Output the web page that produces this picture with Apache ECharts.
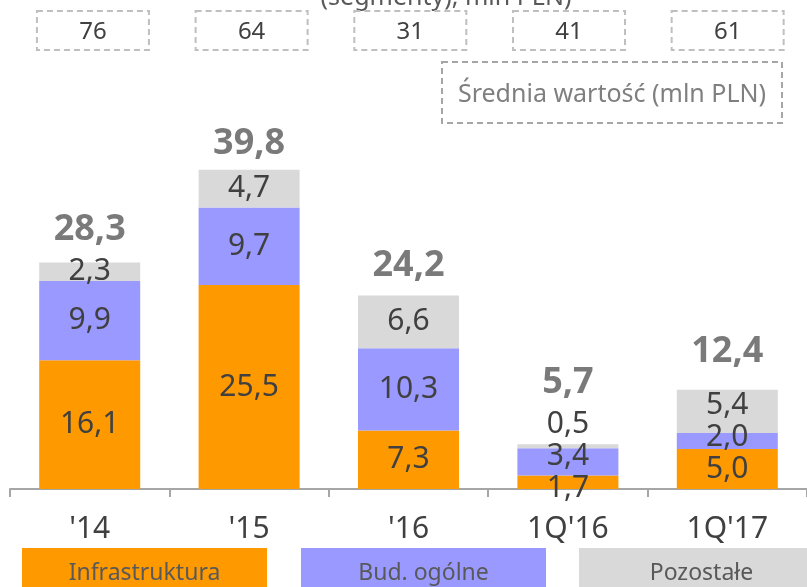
<!DOCTYPE html>
<html>
<head>
<meta charset="utf-8">
<script src="https://cdn.jsdelivr.net/npm/echarts@6/dist/echarts.min.js"></script>
<style>
  html, body { margin: 0; padding: 0; background: #fff; }
  #chart { width: 807px; height: 587px; }
</style>
</head>
<body>
<div id="chart"></div>
<script>
// dane
const categories = ["'14", "'15", "'16", "1Q'16", "1Q'17"];
const infra = [16.1, 25.5, 7.3, 1.7, 5.0];
const budOgolne = [9.9, 9.7, 10.3, 3.4, 2.0];
const pozostale = [2.3, 4.7, 6.6, 0.5, 5.4];
const totals = [28.3, 39.8, 24.2, 5.7, 12.4];
const avgValues = [76, 64, 31, 41, 61];

// przesuniecia etykiet (px), tylko wyglad
const infraShift = [0, 0, 0, 6, 0];
const budShift = [0, 0, 0, -5, -4];
const otherShift = [0, 0, 0, -22, -6];
const totalLift = [33, 27, 30, 61, 38];

const FONT = '"Noto Sans", "DejaVu Sans", sans-serif';
const fmt = v => v.toFixed(1).replace('.', ',');

const chart = echarts.init(document.getElementById('chart'));

function segment(name, values, shifts, color) {
    return {
        name: name,
        type: 'bar',
        stack: 'total',
        barWidth: 101,
        xAxisIndex: 0,
        yAxisIndex: 0,
        itemStyle: { color: color },
        label: {
            show: true,
            position: 'inside',
            color: '#404040',
            fontSize: 30,
            fontFamily: FONT,
            formatter: p => fmt(p.value)
        },
        data: values.map((v, i) => ({ value: v, label: { offset: [0, shifts[i]] } }))
    };
}

chart.setOption({
    animation: false,
    grid: [
        { left: 10, top: 89, width: 807.5, height: 400 },
        { left: 13.6, top: 11, width: 794, height: 39 }
    ],
    xAxis: [{
        type: 'category',
        gridIndex: 0,
        data: categories,
        axisLine: { lineStyle: { color: '#a6a6a6', width: 2 } },
        axisTick: { show: true, length: 8, lineStyle: { color: '#a6a6a6', width: 2 } },
        axisLabel: { color: '#404040', fontSize: 30, fontFamily: FONT, margin: 25 }
    }, {
        type: 'category',
        gridIndex: 1,
        data: categories,
        show: false
    }],
    yAxis: [
        { type: 'value', gridIndex: 0, min: 0, max: 50, show: false },
        { type: 'value', gridIndex: 1, min: 0, max: 1, show: false }
    ],
    series: [
        segment('Infrastruktura', infra, infraShift, '#ff9900'),
        segment('Bud. ogólne', budOgolne, budShift, '#9999ff'),
        segment('Pozostałe', pozostale, otherShift, '#d9d9d9'),
        {
            name: 'Suma',
            type: 'scatter',
            symbolSize: 1,
            itemStyle: { color: 'rgba(0,0,0,0)' },
            z: 5,
            label: {
                show: true,
                position: 'inside',
                color: '#595959',
                fontSize: 36,
                fontWeight: 'bold',
                fontFamily: FONT,
                formatter: p => fmt(p.value)
            },
            data: totals.map((v, i) => ({ value: v, label: { offset: [0, -totalLift[i]] } }))
        },
        {
            name: 'Średnia wartość',
            type: 'custom',
            xAxisIndex: 1,
            yAxisIndex: 1,
            encode: { x: 0, y: 1 },
            data: avgValues.map((v, i) => [i, 0, v]),
            renderItem: (params, api) => {
                const x = api.coord([api.value(0), 0])[0];
                const yBottom = api.coord([api.value(0), 0])[1];
                const yTop = api.coord([api.value(0), 1])[1];
                return {
                    type: 'group',
                    children: [{
                        type: 'rect',
                        shape: { x: x - 56, y: yTop, width: 112, height: yBottom - yTop },
                        style: { fill: 'none', stroke: '#bfbfbf', lineWidth: 2, lineDash: [6, 4] }
                    }, {
                        type: 'text',
                        style: {
                            text: String(api.value(2)),
                            x: x,
                            y: (yTop + yBottom) / 2 + 2,
                            align: 'center',
                            verticalAlign: 'middle',
                            fill: '#404040',
                            font: '24px ' + FONT
                        }
                    }]
                };
            }
        }
    ],
    graphic: [
        {
            type: 'text',
            style: { text: '(segmenty), mln PLN)', x: 446, y: 10, align: 'center', verticalAlign: 'bottom',
                     fill: '#595959', font: '25px ' + FONT }
        },
        {
            type: 'group',
            children: [
                { type: 'rect', shape: { x: 442, y: 62, width: 340, height: 61 },
                  style: { fill: 'none', stroke: '#a6a6a6', lineWidth: 2, lineDash: [6, 4] } },
                { type: 'text', style: { text: 'Średnia wartość (mln PLN)', x: 612, y: 95, align: 'center',
                  verticalAlign: 'middle', fill: '#7f7f7f', font: '25px ' + FONT } }
            ]
        },
        {
            type: 'group',
            children: [
                { type: 'rect', shape: { x: 22, y: 548, width: 245, height: 48 }, style: { fill: '#ff9900' } },
                { type: 'text', style: { text: 'Infrastruktura', x: 144.5, y: 573, align: 'center',
                  verticalAlign: 'middle', fill: '#595959', font: '23px ' + FONT } },
                { type: 'rect', shape: { x: 301, y: 548, width: 245, height: 48 }, style: { fill: '#9999ff' } },
                { type: 'text', style: { text: 'Bud. ogólne', x: 423.5, y: 573, align: 'center',
                  verticalAlign: 'middle', fill: '#595959', font: '23px ' + FONT } },
                { type: 'rect', shape: { x: 579, y: 548, width: 245, height: 48 }, style: { fill: '#d9d9d9' } },
                { type: 'text', style: { text: 'Pozostałe', x: 701.5, y: 573, align: 'center',
                  verticalAlign: 'middle', fill: '#595959', font: '23px ' + FONT } }
            ]
        }
    ]
});
</script>
</body>
</html>
